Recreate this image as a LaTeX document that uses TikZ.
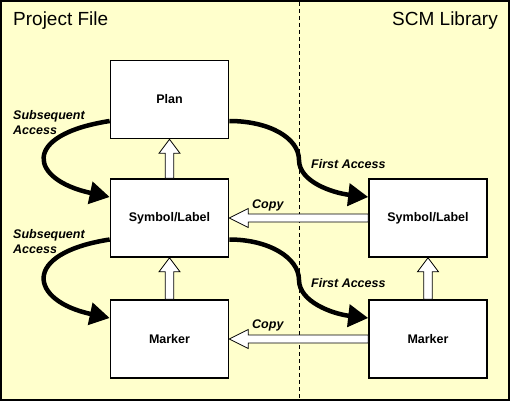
\documentclass[tikz,border=0pt]{standalone}
\usepackage{fontspec}
\setmainfont{Liberation Sans}
\usetikzlibrary{arrows.meta,calc}
\definecolor{bgyellow}{HTML}{FFFFCC}

\begin{document}
\begin{tikzpicture}[x=1pt,y=-1pt]
\tikzset{
  boxnode/.style={rectangle,draw=black,fill=white,line width=1.6pt,minimum width=118pt,minimum height=78pt,inner sep=0pt,font=\fontsize{12.5}{15}\selectfont\bfseries},
  titletext/.style={inner sep=0pt,font=\fontsize{19}{22}\selectfont},
  labeltext/.style={inner sep=0pt,font=\fontsize{12.5}{15}\selectfont\bfseries\itshape},
  accessarrow/.style={draw=black,line width=4.5pt,-{Triangle[length=20pt,width=22pt]}},
  hollowarrow/.style n args={3}{draw=black,fill=white,line width=0.8pt,line join=miter,
    to path={let \p1=($(\tikztotarget)!#2!(\tikztostart)$) in
      ($(\tikztostart)!#1!90:(\tikztotarget)$) -- ($(\p1)!#1!90:(\tikztotarget)$)
      -- ($(\p1)!#3!90:(\tikztotarget)$) -- (\tikztotarget)
      -- ($(\p1)!#3!-90:(\tikztotarget)$) -- ($(\p1)!#1!-90:(\tikztotarget)$)
      -- ($(\tikztostart)!#1!-90:(\tikztotarget)$) -- cycle}},
  copyarrow/.style={hollowarrow={4pt}{19pt}{9.5pt}},
  liftarrow/.style={hollowarrow={4.3pt}{14pt}{10.5pt}},
  divider/.style={draw=black,line width=0.8pt,dash pattern=on 4pt off 3pt}
}
\useasboundingbox (0,0) rectangle (510,401);
\fill[bgyellow] (0,0) rectangle (510,401);
\draw[line width=2pt] (1,1) rectangle (509,400);
\coordinate (d_top) at (299,2);
\coordinate (d_bot) at (299,399);
\draw[divider] (d_top) -- (d_bot);
\node[titletext,anchor=base west] (t_project) at (13,26) {Project File};
\node[titletext,anchor=base east] (t_scm) at (498,26) {SCM Library};
\node[boxnode] (n_plan) at (169.5,99.5) {Plan};
\node[boxnode] (n_symL) at (169.5,218) {Symbol/Label};
\node[boxnode] (n_markL) at (169.5,339) {Marker};
\node[boxnode] (n_symR) at (428,218) {Symbol/Label};
\node[boxnode] (n_markR) at (428,339) {Marker};
\draw[liftarrow] (n_symL.north) to (n_plan.south);
\draw[liftarrow] (n_markL.north) to (n_symL.south);
\draw[liftarrow] (n_markR.north) to (n_symR.south);
\draw[copyarrow] (n_symR.west) to (n_symL.east);
\draw[copyarrow] (n_markR.west) to (n_markL.east);
\draw[accessarrow] ([yshift=-21.5pt]n_plan.west) .. controls +(-90,14) and +(-80,-17) .. ([yshift=21pt]n_symL.west);
\draw[accessarrow] ([yshift=-21.5pt]n_symL.west) .. controls +(-90,14) and +(-80,-17) .. ([yshift=21pt]n_markL.west);
\coordinate (c_first1) at (299,160);
\coordinate (c_first2) at (299,280);
\draw[accessarrow] ([yshift=-21.5pt]n_plan.east) .. controls +(40,0) and +(0,-22) .. (c_first1)
  .. controls +(0,22) and +(-35,-4) .. ([yshift=21pt]n_symR.west);
\draw[accessarrow] ([yshift=-21.5pt]n_symL.east) .. controls +(40,0) and +(0,-22) .. (c_first2)
  .. controls +(0,22) and +(-35,-4) .. ([yshift=21pt]n_markR.west);
\node[labeltext,align=left,anchor=north west] (l_sub1) at (13,110) {Subsequent\\Access};
\node[labeltext,align=left,anchor=north west] (l_sub2) at (13,229) {Subsequent\\Access};
\node[labeltext,anchor=base west] (l_first1) at (311,168) {First Access};
\node[labeltext,anchor=base west] (l_first2) at (311,287) {First Access};
\node[labeltext,anchor=base west] (l_copy1) at (252,208) {Copy};
\node[labeltext,anchor=base west] (l_copy2) at (252,328) {Copy};
\end{tikzpicture}
\end{document}
